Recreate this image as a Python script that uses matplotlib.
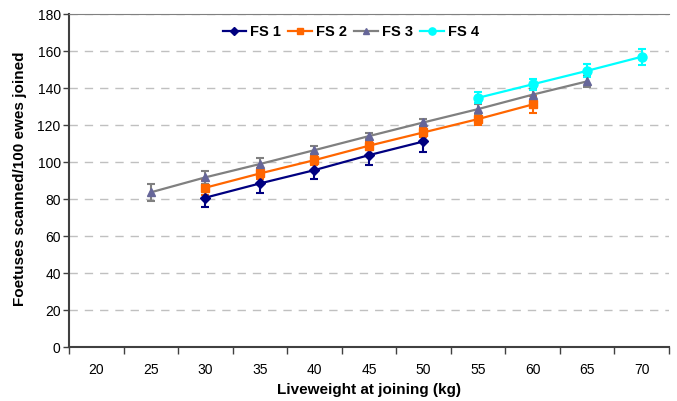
import matplotlib.pyplot as plt
import numpy as np

plt.rcParams['font.family'] = ['Liberation Sans', 'DejaVu Sans']

categories = [20, 25, 30, 35, 40, 45, 50, 55, 60, 65, 70]

fs1_x = [30, 35, 40, 45, 50]
fs1_y = [80.9, 88.6, 95.8, 103.9, 111.3]
fs1_e = [5.0, 5.0, 5.0, 5.3, 5.5]

fs2_x = [30, 35, 40, 45, 50, 55, 60]
fs2_y = [86.3, 94.0, 101.2, 109.0, 116.2, 123.4, 131.3]
fs2_e = [4.0, 3.0, 2.5, 2.5, 2.5, 3.0, 4.5]

fs3_x = [25, 30, 35, 40, 45, 50, 55, 60, 65]
fs3_y = [83.8, 91.9, 99.1, 106.6, 114.2, 121.6, 128.8, 136.6, 143.8]
fs3_e = [4.5, 3.5, 3.0, 2.0, 1.8, 1.8, 2.5, 3.0, 3.0]

fs4_x = [55, 60, 65, 70]
fs4_y = [134.9, 142.2, 149.5, 157.1]
fs4_e = [3.0, 3.0, 3.5, 4.2]

series = [
    ("FS 1", fs1_x, fs1_y, fs1_e, "#000080", "#000080", "D", 5),
    ("FS 2", fs2_x, fs2_y, fs2_e, "#FF6600", "#FF6600", "s", 6),
    ("FS 3", fs3_x, fs3_y, fs3_e, "#808080", "#666699", "^", 6),
    ("FS 4", fs4_x, fs4_y, fs4_e, "#00FFFF", "#00FFFF", "o", 6.5),
]

fig = plt.figure(figsize=(6.77, 4.01), dpi=100)
ax = fig.add_axes([0.102, 0.134, 0.886, 0.830])

for name, x, y, e, lc, mc, mk, ms in series:
    ax.errorbar(x, y, yerr=e, color=lc, ecolor=lc, elinewidth=1.5, capsize=3,
                capthick=1.5, linewidth=1.6, marker=mk, markersize=ms,
                markerfacecolor=mc, markeredgecolor=mc, label=name, zorder=3)

ax.set_xlim(17.5, 72.5)
ax.set_ylim(0, 180)
ax.set_xticks(categories)
ax.set_xticklabels([str(c) for c in categories])
ax.set_xticks(np.arange(17.5, 73, 5), minor=True)
ax.tick_params(axis='x', which='major', length=0, pad=11, labelsize=10)
ax.tick_params(axis='x', which='minor', length=5, width=1, color='#404040')
ax.set_yticks(np.arange(0, 181, 20))
ax.tick_params(axis='y', length=4, width=1, color='#404040', labelsize=10, pad=2)

ax.yaxis.grid(True, linestyle=(0, (6, 5)), color='#C0C0C0', linewidth=1)
ax.set_axisbelow(True)

ax.spines['right'].set_visible(False)
ax.spines['top'].set_color('#808080')
ax.spines['left'].set_color('#404040')
ax.spines['bottom'].set_color('#404040')
ax.spines['left'].set_linewidth(1.5)
ax.spines['bottom'].set_linewidth(1.5)

fig.text(0.545, 0.027, "Liveweight at joining (kg)", ha='center', va='center',
         fontsize=11, fontweight='bold')
fig.text(0.03, 0.555, "Foetuses scanned/100 ewes joined", ha='center', va='center',
         rotation='vertical', fontsize=11, fontweight='bold')

handles, labels = ax.get_legend_handles_labels()
handles = [h[0] for h in handles]
leg = ax.legend(handles, labels, loc='center', bbox_to_anchor=(0.47, 0.947), ncol=4,
                frameon=False, prop={'weight': 'bold', 'size': 10.5}, handlelength=1.6,
                handletextpad=0.3, columnspacing=0.5, markerscale=0.8)

fig.savefig("out.png", dpi=100)
